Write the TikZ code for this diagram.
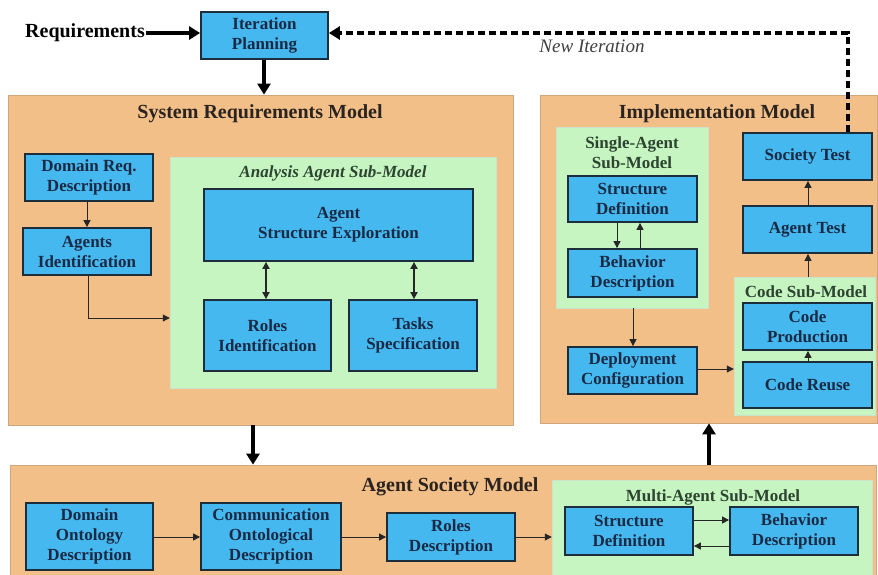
\documentclass[tikz,border=0pt]{standalone}
\usepackage{fontspec}
\setmainfont{Liberation Serif}
\usetikzlibrary{arrows.meta}
\definecolor{orng}{HTML}{F3BF88}
\definecolor{orngline}{HTML}{D2A67C}
\definecolor{grn}{HTML}{C6F5C2}
\definecolor{blu}{HTML}{45B8F0}
\definecolor{bluline}{HTML}{1C2E3C}
\definecolor{boxtxt}{HTML}{1B2A44}
\definecolor{grntxt}{HTML}{2C4430}
\definecolor{ttl}{HTML}{2A2420}
\tikzset{
  bx/.style={draw=bluline, line width=1.8pt, fill=blu, text=boxtxt, inner sep=0pt,
    align=center, font=\bfseries\fontsize{17}{20}\selectfont},
  model/.style={draw=orngline, line width=0.8pt, fill=orng, inner sep=0pt},
  sub/.style={fill=grn, draw=grn!85!black!60, line width=0.4pt, inner sep=0pt},
  mtitle/.style={text=ttl, font=\bfseries\fontsize{20}{22}\selectfont},
  stitle/.style={text=grntxt, align=center, font=\bfseries\fontsize{17}{20}\selectfont},
  thin/.style={draw=black!85, line width=1pt, -{Triangle[length=7pt,width=7pt]}},
  thick/.style={draw=black, line width=3.2pt, -{Triangle[length=11pt,width=13pt]}},
  dbl/.style={draw=black!85, line width=1.7pt, {Triangle[length=7pt,width=7pt]}-{Triangle[length=7pt,width=7pt]}},
}
\begin{document}
\begin{tikzpicture}[x=1pt,y=-1pt]
\useasboundingbox (0,0) rectangle (878,574);
\fill[white] (0,0) rectangle (878,574);
\begin{scope}
\clip (0,0) rectangle (878,574);
% ---- top
\node[anchor=east, inner sep=1pt, text=black, font=\bfseries\fontsize{20}{22}\selectfont] (req) at (146,33) {Requirements};
\node[bx, minimum width=127pt, minimum height=47pt] (ip) at (264.5,35.5) {Iteration\\Planning};
\coordinate (nt) at (848,33);
\node[text=black!75, font=\itshape\fontsize{19}{21}\selectfont] (ni) at (592,46) {New Iteration};

% ---- System Requirements Model
\node[model, minimum width=505pt, minimum height=330pt] (srm) at (260.5,260) {};
\node[mtitle] (srmt) at (260,114) {System Requirements Model};
\node[bx, minimum width=128pt, minimum height=47pt] (drd) at (89,177.5) {Domain Req.\\Description};
\node[bx, minimum width=128pt, minimum height=47pt] (ai) at (87,251.5) {Agents\\Identification};
\node[sub, minimum width=326pt, minimum height=231pt] (aasm) at (333,272.5) {};
\node[stitle, font=\bfseries\itshape\fontsize{17}{20}\selectfont] (aasmt) at (333,173) {Analysis Agent Sub-Model};
\node[bx, minimum width=269pt, minimum height=72pt] (ase) at (338.5,225) {Agent\\Structure Exploration};
\node[bx, minimum width=127pt, minimum height=71pt] (ri) at (267.5,335.5) {Roles\\Identification};
\node[bx, minimum width=128pt, minimum height=71pt] (ts) at (413,335.5) {Tasks\\Specification};

% ---- Implementation Model
\node[model, minimum width=337pt, minimum height=328pt] (im) at (708.5,259) {};
\node[mtitle] (imt) at (717,114) {Implementation Model};
\node[sub, minimum width=152pt, minimum height=181pt] (sasm) at (632,217.5) {};
\node[stitle] (sasmt) at (632,153) {Single-Agent\\Sub-Model};
\node[bx, minimum width=129pt, minimum height=46pt] (sd1) at (632.5,199) {Structure\\Definition};
\node[bx, minimum width=129pt, minimum height=48pt] (bd1) at (632.5,273) {Behavior\\Description};
\node[bx, minimum width=129pt, minimum height=47pt] (dc) at (632.5,370.5) {Deployment\\Configuration};
\node[sub, minimum width=141pt, minimum height=138pt] (csm) at (804.5,346) {};
\node[stitle] (csmt) at (806,292) {Code Sub-Model};
\node[bx, minimum width=129pt, minimum height=47pt] (cp) at (807.5,326.5) {Code\\Production};
\node[bx, minimum width=129pt, minimum height=46pt] (cr) at (807.5,385) {Code Reuse};
\node[bx, minimum width=129pt, minimum height=47pt] (at) at (807.5,229.5) {Agent Test};
\node[bx, minimum width=129pt, minimum height=47pt] (st) at (807.5,156.5) {Society Test};

% ---- Agent Society Model
\node[model, minimum width=866pt, minimum height=140pt] (asm) at (443,535) {};
\node[mtitle] (asmt) at (450,487) {Agent Society Model};
\node[bx, minimum width=127pt, minimum height=67pt] (dod) at (89.5,536.5) {Domain\\Ontology\\Description};
\node[bx, minimum width=140pt, minimum height=67pt] (cod) at (271,536.5) {Communication\\Ontological\\Description};
\node[bx, minimum width=128pt, minimum height=48pt] (rd) at (451,537) {Roles\\Description};
\node[sub, minimum width=320pt, minimum height=130pt] (masm) at (712,545) {};
\node[stitle] (masmt) at (713,497) {Multi-Agent Sub-Model};
\node[bx, minimum width=128pt, minimum height=48pt] (sd2) at (629,531) {Structure\\Definition};
\node[bx, minimum width=128pt, minimum height=48pt] (bd2) at (794,531) {Behavior\\Description};

% ---- connectors
\draw[thick] (req.east |- 0,33) -- (ip.west |- 0,33);
\draw[thick] (ip.south -| 264,0) -- (srm.north -| 264,0);
\draw[black, line width=3.4pt, dash pattern=on 7pt off 4pt, -{Triangle[length=11pt,width=13pt]}]
  (st.north -| nt) -- (nt) -- (nt -| ip.east);
\draw[thick] (srm.south -| 253,0) -- (asm.north -| 253,0);
\draw[thick] (asm.north -| 709,0) -- (im.south -| 709,0);

\draw[thin] (drd.south -| 87,0) -- (ai.north -| 87,0);
\draw[thin] (ai.south -| 88,0) -- (88,318) -- (aasm.west |- 0,318);
\draw[dbl] (ase.south -| 266,0) -- (ri.north -| 266,0);
\draw[dbl] (ase.south -| 414,0) -- (ts.north -| 414,0);

\draw[thin] (sd1.south -| 617,0) -- (bd1.north -| 617,0);
\draw[thin] (bd1.north -| 640,0) -- (sd1.south -| 640,0);
\draw[thin] (sasm.south -| 633,0) -- (dc.north -| 633,0);
\draw[thin] (dc.east |- 0,369) -- (csm.west |- 0,369);
\draw[thin] (cr.north -| 808,0) -- (cp.south -| 808,0);
\draw[thin] (csm.north -| 808,0) -- (at.south -| 808,0);
\draw[thin] (at.north -| 808,0) -- (st.south -| 808,0);

\draw[thin] (dod.east |- 0,537) -- (cod.west |- 0,537);
\draw[thin] (cod.east |- 0,537) -- (rd.west |- 0,537);
\draw[thin] (rd.east |- 0,537) -- (masm.west |- 0,537);
\draw[thin] (sd2.east |- 0,520) -- (bd2.west |- 0,520);
\draw[thin] (bd2.west |- 0,546) -- (sd2.east |- 0,546);
\end{scope}
\end{tikzpicture}
\end{document}
